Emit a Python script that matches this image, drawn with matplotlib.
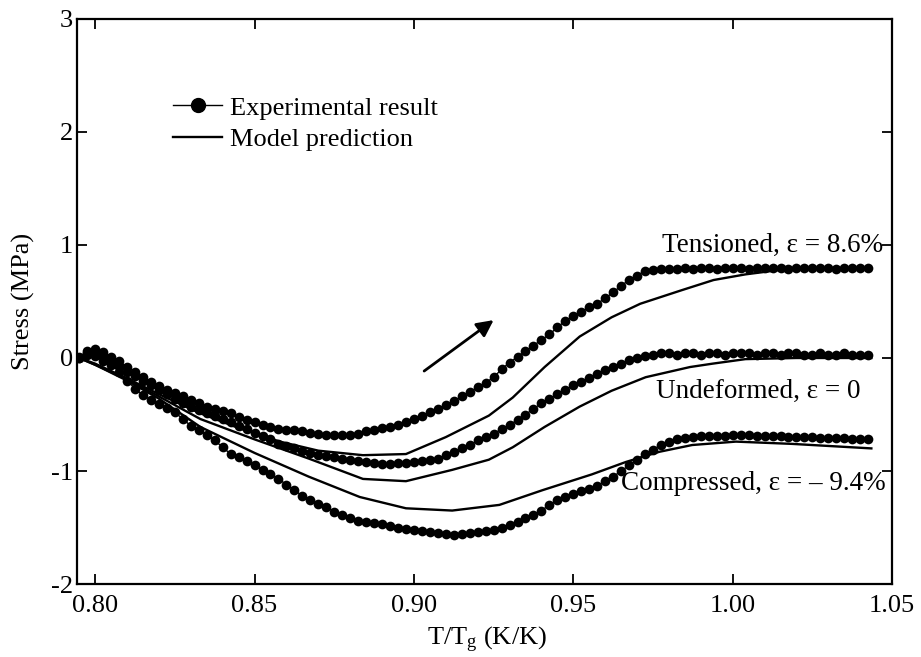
import numpy as np
import matplotlib
matplotlib.use("Agg")
import matplotlib.pyplot as plt
from matplotlib.lines import Line2D

plt.rcParams['font.family'] = ['Liberation Serif', 'DejaVu Serif']
plt.rcParams['mathtext.fontset'] = 'custom'
plt.rcParams['mathtext.rm'] = 'Liberation Serif'
plt.rcParams['mathtext.it'] = 'Liberation Serif:italic'
plt.rcParams['axes.unicode_minus'] = False

# experimental data, sampled every 0.0025 in T/Tg
exp_x = [0.7950, 0.7975, 0.8000, 0.8025, 0.8050, 0.8075, 0.8100, 0.8125, 0.8150, 0.8175,
         0.8200, 0.8225, 0.8250, 0.8275, 0.8300, 0.8325, 0.8350, 0.8375, 0.8400, 0.8425,
         0.8450, 0.8475, 0.8500, 0.8525, 0.8550, 0.8575, 0.8600, 0.8625, 0.8650, 0.8675,
         0.8700, 0.8725, 0.8750, 0.8775, 0.8800, 0.8825, 0.8850, 0.8875, 0.8900, 0.8925,
         0.8950, 0.8975, 0.9000, 0.9025, 0.9050, 0.9075, 0.9100, 0.9125, 0.9150, 0.9175,
         0.9200, 0.9225, 0.9250, 0.9275, 0.9300, 0.9325, 0.9350, 0.9375, 0.9400, 0.9425,
         0.9450, 0.9475, 0.9500, 0.9525, 0.9550, 0.9575, 0.9600, 0.9625, 0.9650, 0.9675,
         0.9700, 0.9725, 0.9750, 0.9775, 0.9800, 0.9825, 0.9850, 0.9875, 0.9900, 0.9925,
         0.9950, 0.9975, 1.0000, 1.0025, 1.0050, 1.0075, 1.0100, 1.0125, 1.0150, 1.0175,
         1.0200, 1.0225, 1.0250, 1.0275, 1.0300, 1.0325, 1.0350, 1.0375, 1.0400, 1.0425]

tens_exp = [0.01, 0.06, 0.08, 0.05, 0.01, -0.03, -0.08, -0.12, -0.17, -0.21,
            -0.25, -0.28, -0.31, -0.34, -0.37, -0.40, -0.43, -0.45, -0.47, -0.49,
            -0.52, -0.55, -0.57, -0.59, -0.61, -0.63, -0.64, -0.64, -0.65, -0.66,
            -0.67, -0.68, -0.68, -0.68, -0.68, -0.67, -0.65, -0.64, -0.62, -0.61,
            -0.59, -0.57, -0.54, -0.51, -0.48, -0.45, -0.42, -0.38, -0.34, -0.30,
            -0.26, -0.22, -0.17, -0.10, -0.04, 0.01, 0.06, 0.11, 0.16, 0.21,
            0.27, 0.33, 0.37, 0.41, 0.45, 0.48, 0.53, 0.58, 0.64, 0.69,
            0.73, 0.77, 0.78, 0.79, 0.79, 0.79, 0.80, 0.79, 0.80, 0.80,
            0.79, 0.80, 0.80, 0.80, 0.79, 0.80, 0.80, 0.80, 0.80, 0.79,
            0.80, 0.80, 0.80, 0.80, 0.80, 0.79, 0.80, 0.80, 0.80, 0.80]

undef_exp = [0.00, 0.04, 0.05, 0.02, -0.02, -0.07, -0.12, -0.16, -0.20, -0.24,
             -0.28, -0.32, -0.36, -0.40, -0.43, -0.46, -0.49, -0.51, -0.54, -0.57,
             -0.60, -0.63, -0.66, -0.69, -0.72, -0.76, -0.78, -0.80, -0.82, -0.84,
             -0.86, -0.87, -0.88, -0.89, -0.90, -0.91, -0.92, -0.93, -0.94, -0.94,
             -0.93, -0.93, -0.92, -0.91, -0.90, -0.89, -0.86, -0.83, -0.80, -0.77,
             -0.73, -0.70, -0.67, -0.63, -0.59, -0.55, -0.50, -0.45, -0.40, -0.36,
             -0.32, -0.28, -0.24, -0.21, -0.18, -0.14, -0.11, -0.08, -0.05, -0.02,
             0.00, 0.02, 0.03, 0.04, 0.04, 0.03, 0.04, 0.04, 0.03, 0.04,
             0.04, 0.03, 0.04, 0.04, 0.04, 0.03, 0.04, 0.04, 0.03, 0.04,
             0.04, 0.03, 0.03, 0.04, 0.03, 0.03, 0.04, 0.03, 0.03, 0.03]

comp_exp = [0.00, 0.03, 0.02, -0.03, -0.06, -0.12, -0.20, -0.27, -0.33, -0.37,
            -0.41, -0.44, -0.48, -0.54, -0.60, -0.64, -0.68, -0.73, -0.79, -0.85,
            -0.88, -0.91, -0.95, -0.99, -1.03, -1.07, -1.12, -1.17, -1.22, -1.26,
            -1.29, -1.32, -1.36, -1.39, -1.42, -1.44, -1.45, -1.46, -1.47, -1.49,
            -1.50, -1.51, -1.52, -1.53, -1.54, -1.55, -1.56, -1.57, -1.56, -1.55,
            -1.54, -1.53, -1.52, -1.50, -1.48, -1.45, -1.42, -1.39, -1.35, -1.30,
            -1.26, -1.23, -1.20, -1.18, -1.16, -1.13, -1.09, -1.05, -1.00, -0.95,
            -0.90, -0.85, -0.81, -0.77, -0.74, -0.72, -0.71, -0.70, -0.69, -0.69,
            -0.69, -0.69, -0.68, -0.68, -0.68, -0.69, -0.69, -0.69, -0.69, -0.70,
            -0.70, -0.70, -0.70, -0.71, -0.71, -0.71, -0.71, -0.72, -0.72, -0.72]

# model predictions
tens_mod_x = [0.795, 0.800, 0.810, 0.820, 0.833, 0.845, 0.858, 0.870, 0.884, 0.8975, 0.910,
              0.9235, 0.931, 0.941, 0.952, 0.962, 0.971, 0.984, 0.994, 1.004, 1.015, 1.030, 1.0435]
tens_mod_y = [0.00, -0.05, -0.18, -0.32, -0.49, -0.62, -0.74, -0.82, -0.86, -0.85, -0.70,
              -0.51, -0.35, -0.08, 0.19, 0.36, 0.48, 0.60, 0.69, 0.74, 0.78, 0.79, 0.79]

undef_mod_x = [0.795, 0.800, 0.810, 0.820, 0.833, 0.850, 0.867, 0.884, 0.8975, 0.912, 0.9235,
               0.931, 0.941, 0.952, 0.962, 0.9727, 0.9866, 0.9937, 1.004, 1.020, 1.0435]
undef_mod_y = [0.00, -0.06, -0.19, -0.34, -0.54, -0.72, -0.89, -1.07, -1.09, -0.99, -0.90,
               -0.79, -0.61, -0.43, -0.29, -0.17, -0.08, -0.05, -0.01, 0.00, 0.00]

comp_mod_x = [0.795, 0.800, 0.810, 0.820, 0.833, 0.850, 0.867, 0.883, 0.8975, 0.912, 0.9268,
              0.9403, 0.9558, 0.9665, 0.977, 0.9873, 1.001, 1.0186, 1.0435]
comp_mod_y = [0.00, -0.06, -0.20, -0.36, -0.61, -0.84, -1.05, -1.23, -1.33, -1.35, -1.30,
              -1.17, -1.03, -0.92, -0.83, -0.77, -0.74, -0.76, -0.80]

x_ticks = [0.80, 0.85, 0.90, 0.95, 1.00, 1.05]
y_ticks = [-2, -1, 0, 1, 2, 3]

fig = plt.figure(figsize=(9.21, 6.57), dpi=100)
ax = fig.add_axes([0.0836, 0.1111, 0.885, 0.860])

for y in [tens_exp, undef_exp, comp_exp]:
    ax.plot(exp_x, y, color='black', lw=1, marker='o', markersize=7, markeredgewidth=0)

for mx, my in [(tens_mod_x, tens_mod_y), (undef_mod_x, undef_mod_y), (comp_mod_x, comp_mod_y)]:
    ax.plot(mx, my, color='black', lw=1.7)

ax.set_xlim(0.7943, 1.05)
ax.set_ylim(-2, 3)
ax.set_xticks(x_ticks)
ax.set_xticklabels(['%.2f' % v for v in x_ticks])
ax.set_yticks(y_ticks)
ax.set_yticklabels([str(v) for v in y_ticks])
ax.tick_params(direction='in', top=True, right=True, length=7, width=1.3,
               labelsize=19)
ax.tick_params(axis='x', pad=8)
ax.tick_params(axis='y', pad=3)
for s in ax.spines.values():
    s.set_linewidth(1.6)

ax.set_xlabel(r'T/T$_{\mathrm{g}}$ (K/K)', fontsize=19)
ax.xaxis.set_label_coords(0.503, -0.072)
ax.set_ylabel('Stress (MPa)', fontsize=19)
ax.yaxis.set_label_coords(-0.052, 0.5)

handles = [Line2D([], [], color='black', lw=1, marker='o', markersize=10),
           Line2D([], [], color='black', lw=1.7)]
ax.legend(handles, ['Experimental result', 'Model prediction'], loc='upper left',
          bbox_to_anchor=(0.102, 0.887), frameon=False, fontsize=19, borderpad=0,
          handlelength=1.85, handletextpad=0.3, labelspacing=0.31)

ax.text(1.0473, 1.0, 'Tensioned, ε = 8.6%', fontsize=19.5, ha='right', va='center')
ax.text(0.9759, -0.30, 'Undeformed, ε = 0', fontsize=19.5, ha='left', va='center')
ax.text(0.965, -1.115, 'Compressed, ε = – 9.4%', fontsize=19.5, ha='left', va='center')

ax.annotate('', xy=(0.9257, 0.35), xytext=(0.9025, -0.13),
            arrowprops=dict(arrowstyle='-|>', color='black', lw=2, mutation_scale=25))

fig.savefig('out.png', dpi=100)
